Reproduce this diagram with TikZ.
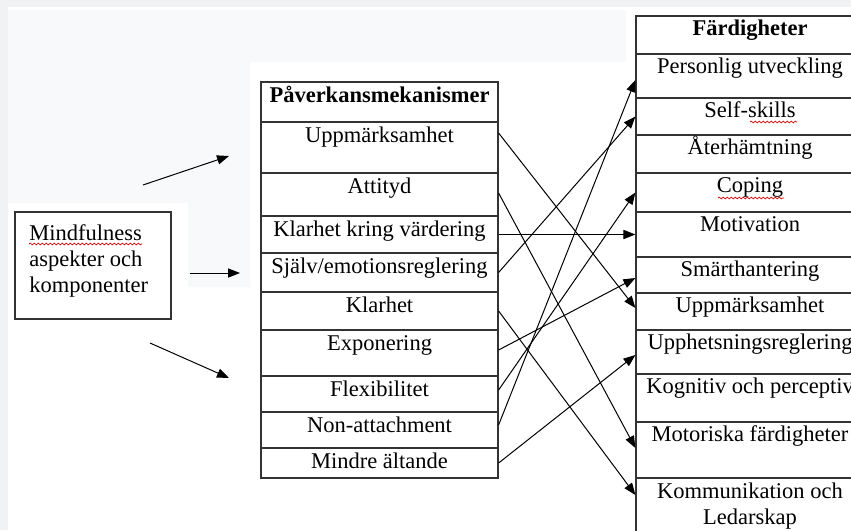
\documentclass[tikz,border=0pt]{standalone}
\usepackage{fontspec}
\setmainfont{Liberation Serif}
\usetikzlibrary{arrows.meta,calc,fit,decorations.pathmorphing}
\definecolor{pagegray}{HTML}{F1F2F4}
\definecolor{canvasgray}{HTML}{F8F9FA}
\tikzset{
  cell/.style={draw=black!80,line width=0.6pt,inner sep=0pt},
  txt/.style={inner sep=0pt,anchor=base,align=center,font=\fontsize{11.25}{13}\selectfont},
  link/.style={-{Triangle[length=6pt,width=4.6pt]},line width=0.5pt},
  spell/.style={draw=red!85!black,line width=0.35pt,decorate,decoration={snake,amplitude=0.45pt,segment length=2pt}}
}

\begin{document}
\begin{tikzpicture}[x=0.5pt,y=-0.5pt]
  \useasboundingbox (0,0) rectangle (851,530);
  \clip (0,0) rectangle (851,530);
  % page and canvas
  \fill[pagegray] (0,0) rectangle (851,530);
  \fill[white] (8,7) rectangle (851,530);
  \fill[canvasgray] (8,10) -- (626,10) -- (626,62) -- (250,62) -- (250,287)
    -- (188,287) -- (188,203) -- (8,203) -- cycle;

  % left box (base = last line)
  \node[cell,fit={(15,212) (171,319)}] (mind) {};
  \node[txt,anchor=base west,align=left] (mind-t) at (29,292) {Mindfulness\\aspekter och\\komponenter};
  \draw[spell] (29,244) -- (142,244);

  % middle table
  \foreach \n/\ya/\yb/\txt in {m0/82/122/{\textbf{Påverkansmekanismer}},
      m1/122/173/Uppmärksamhet, m2/173/216/Attityd,
      m3/216/253/{Klarhet kring värdering}, m4/253/292/{Själv/emotionsreglering},
      m5/292/330/Klarhet, m6/330/376/Exponering, m7/376/412/Flexibilitet,
      m8/412/448/Non-attachment, m9/448/478/{Mindre ältande}} {
    \node[cell,fit={(261,\ya) (498,\yb)}] (\n) {};
    \node[txt] (\n-t) at ($(\n.north)+(0,21.5)$) {\txt};
  }

  % right table
  \foreach \n/\ya/\yb/\txt in {f0/16/54/{\textbf{Färdigheter}},
      f1/54/98/{Personlig utveckling}, f2/98/135/Self-skills, f3/135/173/Återhämtning,
      f4/173/212/Coping, f5/212/257/Motivation, f6/257/293/Smärthantering,
      f7/293/330/Uppmärksamhet, f8/330/374/Upphetsningsreglering,
      f9/374/422/{Kognitiv och perceptiv}, f10/422/478/{Motoriska färdigheter}} {
    \node[cell,fit={(636,\ya) (864,\yb)}] (\n) {};
    \node[txt] (\n-t) at ($(\n.north)+(0,20.5)$) {\txt};
  }
  \node[cell,fit={(636,478) (864,560)}] (f11) {};
  \node[txt] (f11-t) at ($(f11.north)+(0,47.5)$) {Kommunikation och\\Ledarskap};
  \draw[spell] (750,122) -- (797,122);
  \draw[spell] (718,198) -- (784,198);

  % arrows from the box
  \coordinate (a1) at (143,185); \coordinate (b1) at (229,156);
  \coordinate (a2) at (190,273); \coordinate (b2) at (240,273);
  \coordinate (a3) at (150,343); \coordinate (b3) at (229,378);
  \draw[link] (a1) -- (b1);
  \draw[link] (a2) -- (b2);
  \draw[link] (a3) -- (b3);

  % mechanisms to skills
  \draw[link] ([yshift=7.25pt]m1.east) -- ([yshift=1.75pt]f7.west);
  \draw[link] ([yshift=0.75pt]m2.east) -- ([yshift=1pt]f10.west);
  \draw[link] (m3.east) -- (m3.east -| f5.west);
  \draw[link] (m4.east) -- (f2.west);
  \draw[link] (m5.east) -- ([yshift=12pt]f11.west);
  \draw[link] ([yshift=1.5pt]m6.east) -- ([yshift=-1.5pt]f6.west);
  \draw[link] ([yshift=2pt]m7.east) -- (f4.west);
  \draw[link] ([yshift=2.5pt]m8.east) -- ([yshift=-2pt]f1.west);
  \draw[link] (m9.east) -- ([yshift=-1.5pt]f8.west);
\end{tikzpicture}
\end{document}
